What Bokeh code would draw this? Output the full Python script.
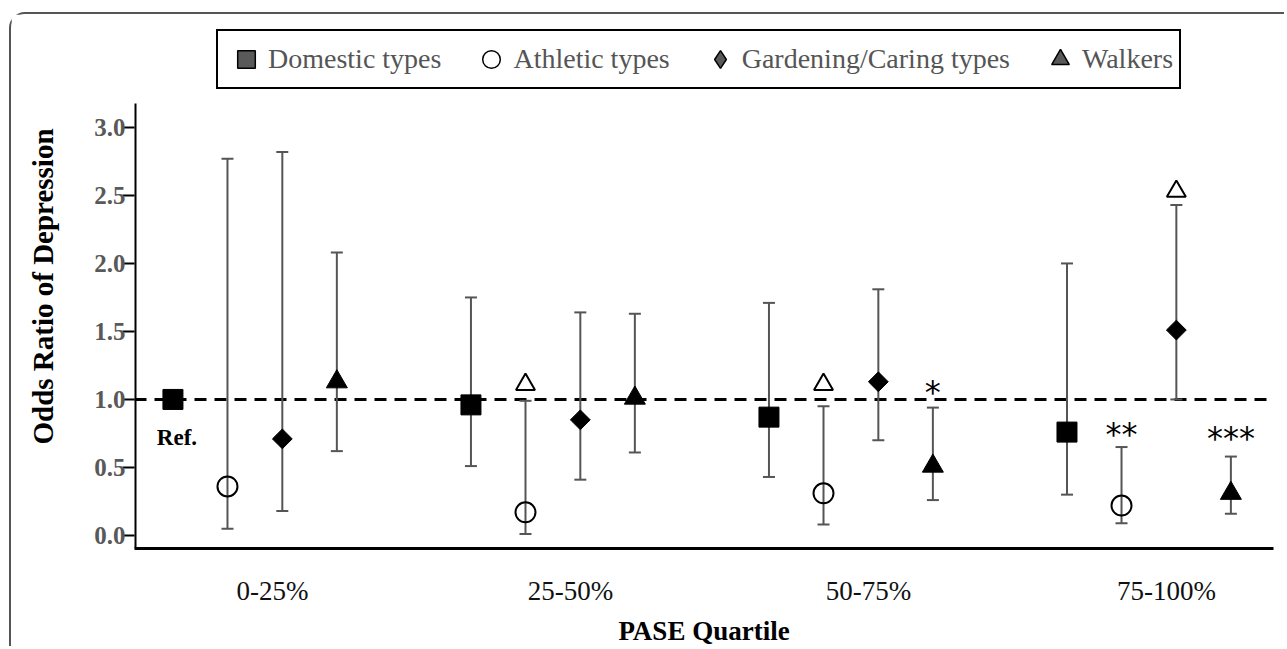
import numpy as np
from bokeh.plotting import figure
from bokeh.models import (Range1d, FixedTicker, Span, Whisker, TeeHead, ColumnDataSource,
                          Legend, LegendItem, NumeralTickFormatter)
from bokeh.core.properties import value
from bokeh.embed import file_html
from bokeh.resources import INLINE

# ---------------- data ----------------
groups = ["0-25%", "25-50%", "50-75%", "75-100%"]
series = ["Domestic types", "Athletic types", "Gardening/Caring types", "Walkers"]

dom_or = [1.00, 0.96, 0.87, 0.76]
dom_lo = [np.nan, 0.51, 0.43, 0.30]
dom_hi = [np.nan, 1.75, 1.71, 2.00]

ath_or = [0.36, 0.17, 0.31, 0.22]
ath_lo = [0.05, 0.01, 0.08, 0.09]
ath_hi = [2.77, 0.99, 0.95, 0.65]

gar_or = [0.71, 0.85, 1.13, 1.51]
gar_lo = [0.18, 0.41, 0.70, 1.00]
gar_hi = [2.82, 1.64, 1.81, 2.43]

wal_or = [1.13, 1.01, 0.51, 0.31]
wal_lo = [0.62, 0.61, 0.26, 0.16]
wal_hi = [2.08, 1.63, 0.94, 0.58]

y_ticks = [0.0, 0.5, 1.0, 1.5, 2.0, 2.5, 3.0]

# open-triangle marks above some intervals
delta_series = ["Athletic types", "Athletic types", "Gardening/Caring types"]
delta_group = [1, 2, 3]
delta_y = [1.11, 1.11, 2.53]

# significance asterisks
star_text = ["*", "**", "***"]
star_series = ["Walkers", "Athletic types", "Walkers"]
star_group = [2, 3, 3]
star_y = [1.10, 0.79, 0.76]

ref_label = "Ref."
ref_y = 0.72

# ---------------- layout helpers ----------------
SERIF = "Liberation Serif"
GROUP_SHIFT = -0.059
OFFSETS = {"Domestic types": -0.275, "Athletic types": -0.092,
           "Gardening/Caring types": 0.092, "Walkers": 0.275}
X_LO, X_HI = -0.463, 3.359
Y_LO, Y_AXIS_TOP, Y_HI = -0.096, 3.176, 3.757


def xpos(name, gi):
    return gi + GROUP_SHIFT + OFFSETS[name]


p = figure(width=1275, height=634, output_backend="svg", toolbar_location=None,
           x_range=Range1d(X_LO, X_HI), y_range=Range1d(Y_LO, Y_HI),
           min_border_left=123, min_border_right=13, min_border_top=10, min_border_bottom=100)
p.outline_line_color = None
p.grid.visible = False
p.background_fill_color = "white"
p.border_fill_color = "white"
p.styles = {"margin-left": "9px", "margin-top": "12px",
            "border-left": "2px solid #555", "border-top": "2px solid #555",
            "border-top-left-radius": "16px"}

# y axis (line drawn separately so it stops at the top tick area)
ya = p.yaxis[0]
ya.ticker = FixedTicker(ticks=y_ticks)
ya.formatter = NumeralTickFormatter(format="0.0")
ya.axis_label = "Odds Ratio of Depression"
ya.axis_label_text_font = SERIF
ya.axis_label_text_font_style = "bold"
ya.axis_label_text_font_size = "29px"
ya.axis_label_text_color = "black"
ya.axis_label_standoff = 32
ya.axis_line_color = None
ya.major_tick_out = 12
ya.major_tick_in = 0
ya.minor_tick_out = 0
ya.minor_tick_in = 0
ya.major_tick_line_width = 2
ya.major_tick_line_color = "black"
ya.major_label_standoff = -3
ya.major_label_text_font = SERIF
ya.major_label_text_font_style = "bold"
ya.major_label_text_font_size = "25px"
ya.major_label_text_color = "#595959"

p.segment(x0=[X_LO], y0=[Y_LO], x1=[X_LO], y1=[Y_AXIS_TOP], line_color="black", line_width=4)

# x axis
xa = p.xaxis[0]
xa.ticker = FixedTicker(ticks=list(range(len(groups))))
xa.major_label_overrides = {i: g for i, g in enumerate(groups)}
xa.axis_label = "PASE Quartile"
xa.axis_label_text_font = SERIF
xa.axis_label_text_font_style = "bold"
xa.axis_label_text_font_size = "27px"
xa.axis_label_text_color = "black"
xa.axis_label_standoff = 7
xa.axis_line_width = 3
xa.axis_line_color = "black"
xa.major_tick_out = 0
xa.major_tick_in = 0
xa.minor_tick_out = 0
xa.minor_tick_in = 0
xa.major_label_standoff = 27
xa.major_label_text_font = SERIF
xa.major_label_text_font_size = "27px"
xa.major_label_text_color = "#111111"

# reference line
p.add_layout(Span(location=1.0, dimension="width", line_dash="12 8", line_width=3,
                  line_color="black", level="underlay"))

# error bars
for name, lo, hi in [("Domestic types", dom_lo, dom_hi), ("Athletic types", ath_lo, ath_hi),
                     ("Gardening/Caring types", gar_lo, gar_hi), ("Walkers", wal_lo, wal_hi)]:
    xs, los, his = [], [], []
    for gi in range(len(groups)):
        if not (np.isnan(lo[gi]) or np.isnan(hi[gi])):
            xs.append(xpos(name, gi)); los.append(lo[gi]); his.append(hi[gi])
    src = ColumnDataSource(dict(x=xs, lo=los, hi=his))
    p.add_layout(Whisker(base="x", lower="lo", upper="hi", source=src, dimension="height",
                         line_color="#555555", line_width=2, level="underlay",
                         upper_head=TeeHead(size=12, line_color="#555555", line_width=2),
                         lower_head=TeeHead(size=12, line_color="#555555", line_width=2)))

gi_all = list(range(len(groups)))
p.scatter([xpos("Domestic types", g) for g in gi_all], dom_or, marker="square", size=20,
          fill_color="black", line_color="black")
p.scatter([xpos("Athletic types", g) for g in gi_all], ath_or, marker="circle", size=20,
          fill_alpha=0, line_color="black", line_width=2)
p.scatter([xpos("Gardening/Caring types", g) for g in gi_all], gar_or, marker="square",
          angle=np.pi / 4, size=14, fill_color="black", line_color="black")
p.scatter([xpos("Walkers", g) for g in gi_all], wal_or, marker="triangle", size=21,
          fill_color="black", line_color="black")

# open triangle marks
p.scatter([xpos(s, g) for s, g in zip(delta_series, delta_group)], delta_y, marker="triangle",
          size=19, fill_color="white", line_color="black", line_width=2)

# asterisks
p.text([xpos(s, g) for s, g in zip(star_series, star_group)], star_y, text=star_text,
       text_font=value("DejaVu Sans"), text_font_size="32px", text_color="black",
       text_align="center", text_baseline="middle", y_offset=6)

# Ref. label
p.text([xpos("Domestic types", 0)], [ref_y], text=[ref_label], text_font=value(SERIF),
       text_font_style="bold", text_font_size="23px", text_color="black",
       text_align="center", text_baseline="middle", x_offset=4)

# legend (proxy renderers placed outside the visible range, grey markers)
proxy = dict(x=[0.0], y=[Y_LO - 10])
lr = [
    p.scatter("x", "y", source=ColumnDataSource(proxy), marker="square", fill_color="#595959",
              line_color="black", line_width=1.5),
    p.scatter("x", "y", source=ColumnDataSource(proxy), marker="circle", fill_color="white",
              line_color="black", line_width=1.5),
    p.scatter("x", "y", source=ColumnDataSource(proxy), marker="diamond", fill_color="#595959",
              line_color="black", line_width=1.5),
    p.scatter("x", "y", source=ColumnDataSource(proxy), marker="triangle", fill_color="#595959",
              line_color="black", line_width=1.5),
]
legend = Legend(items=[LegendItem(label=s, renderers=[r]) for s, r in zip(series, lr)],
                orientation="horizontal", location=(82, 459), glyph_width=44, glyph_height=44,
                label_standoff=0, spacing=28, padding=6, margin=0,
                border_line_color="black", border_line_width=2, border_line_alpha=1.0,
                label_text_font=SERIF, label_text_font_size="28px", label_text_color="#555555",
                background_fill_color="white", background_fill_alpha=1.0)
p.add_layout(legend)

open("out.html", "w").write(file_html(p, INLINE))
